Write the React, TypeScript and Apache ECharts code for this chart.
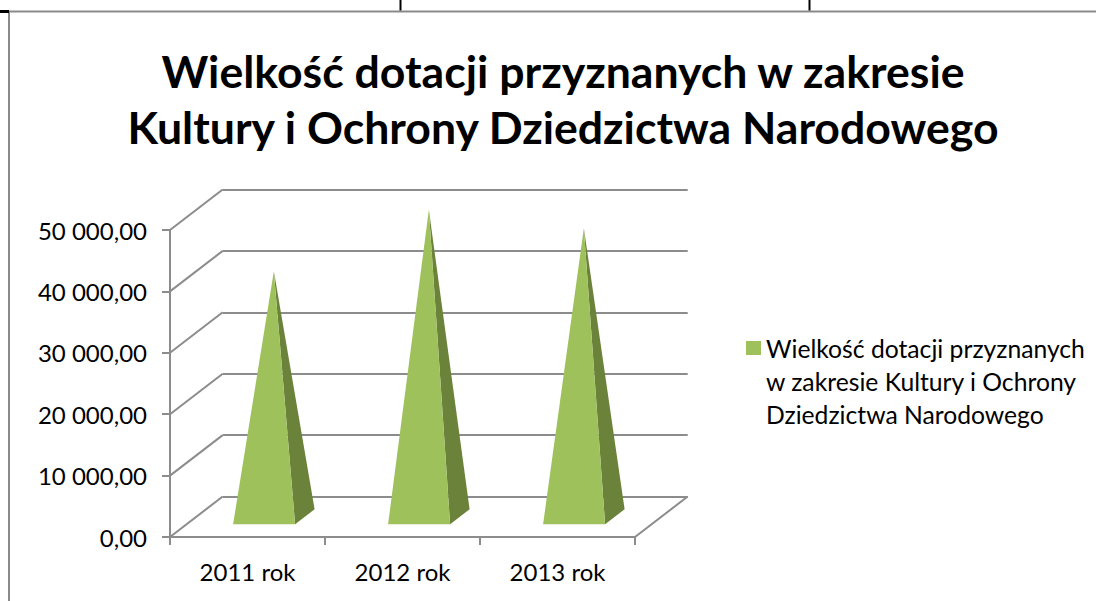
import React, { useEffect, useRef } from "react";
import * as echarts from "echarts";

// ---- data ----
const TITLE_LINES = [
  "Wielkość dotacji przyznanych w zakresie",
  "Kultury i Ochrony Dziedzictwa Narodowego",
];
const SERIES_NAME =
  "Wielkość dotacji przyznanych w zakresie Kultury i Ochrony Dziedzictwa Narodowego";
const LEGEND_LINES = [
  "Wielkość dotacji przyznanych",
  "w zakresie Kultury i Ochrony",
  "Dziedzictwa Narodowego",
];
const CATEGORIES = ["2011 rok", "2012 rok", "2013 rok"];
const VALUES = [40000, 50000, 47000];
const Y_TICKS = [0, 10000, 20000, 30000, 40000, 50000];
const Y_MIN = 0;
const Y_MAX = 50000;
const Y_STEP = 10000;

// ---- styling / layout ----
const GRAY = "#8c8c8c";
const FRONT_COLOR = "#9fc15c";
const SIDE_COLOR = "#6a8239";
const FONT = "Lato";
const FRONT_GRID = { left: 170, top: 230, width: 465, height: 307 };
const DEPTH = { x: 52.7, y: -40.5 };
const PYR_HALF = 0.2; // half base width as fraction of band
const PYR_F0 = 0.315;
const PYR_F1 = 0.685;
const PYR_FM = 0.5;
const LEGEND_LINE_H = 33;
// legend marker: square aligned with first text line, box spans all three lines
const LEGEND_ICON =
  "path://M0,0L0.01,0Z M0,9.5H15V23.5H0Z M0,99L0.01,99Z";

function fmt(v: number): string {
  const s = Math.round(v)
    .toString()
    .replace(/\B(?=(\d{3})+(?!\d))/g, " ");
  return s + ",00";
}

export default function App() {
  const ref = useRef<HTMLDivElement>(null);

  useEffect(() => {
    if (!ref.current) return;
    const chart = echarts.init(ref.current, undefined, { renderer: "svg" });

    const axisFont = { fontFamily: FONT, fontSize: 24, color: "#000" };

    const option: any = {
      animation: false,
      backgroundColor: "#fff",
      title: {
        text: TITLE_LINES.join("\n"),
        left: 563,
        top: 42,
        padding: 0,
        textAlign: "center",
        textStyle: {
          fontFamily: FONT,
          fontWeight: "bold",
          fontSize: 44.6,
          lineHeight: 56,
          color: "#000",
        },
      },
      legend: {
        data: [SERIES_NAME],
        orient: "vertical",
        left: 746,
        top: 331.5,
        padding: 0,
        icon: LEGEND_ICON,
        itemWidth: 15,
        itemHeight: LEGEND_LINE_H * LEGEND_LINES.length,
        itemStyle: { borderWidth: 0 },
        formatter: () => LEGEND_LINES.join("\n"),
        textStyle: {
          fontFamily: FONT,
          fontSize: 24.7,
          color: "#000",
          lineHeight: LEGEND_LINE_H,
        },
        selectedMode: false,
      },
      grid: [
        { ...FRONT_GRID },
        {
          left: FRONT_GRID.left + DEPTH.x,
          top: FRONT_GRID.top + DEPTH.y,
          width: FRONT_GRID.width,
          height: FRONT_GRID.height,
        },
      ],
      xAxis: [
        {
          gridIndex: 0,
          type: "category",
          data: CATEGORIES,
          axisLine: { show: true, lineStyle: { color: GRAY, width: 2 } },
          axisTick: { show: true, length: 8, lineStyle: { color: GRAY, width: 2 } },
          axisLabel: { ...axisFont, margin: 22 },
          splitLine: { show: false },
        },
        {
          gridIndex: 1,
          type: "category",
          data: CATEGORIES,
          show: false,
        },
      ],
      yAxis: [
        {
          gridIndex: 0,
          type: "value",
          min: Y_MIN,
          max: Y_MAX,
          interval: Y_STEP,
          axisLine: { show: true, lineStyle: { color: GRAY, width: 2 } },
          axisTick: { show: true, length: 8, lineStyle: { color: GRAY, width: 2 } },
          axisLabel: { ...axisFont, margin: 23, formatter: (v: number) => fmt(v) },
          splitLine: { show: false },
        },
        {
          gridIndex: 1,
          type: "value",
          min: Y_MIN,
          max: Y_MAX,
          interval: Y_STEP,
          axisLine: { show: false },
          axisTick: { show: false },
          axisLabel: { show: false },
          splitLine: {
            show: true,
            showMinLine: true,
            showMaxLine: true,
            lineStyle: { color: GRAY, width: 2 },
          },
        },
      ],
      graphic: [
        { type: "line", shape: { x1: 9, y1: 11, x2: 9, y2: 601 }, style: { stroke: "#8a8a8a", lineWidth: 2 } },
        { type: "line", shape: { x1: 9, y1: 11.5, x2: 1096, y2: 11.5 }, style: { stroke: "#8a8a8a", lineWidth: 2 } },
        { type: "line", shape: { x1: 0, y1: 11.5, x2: 9, y2: 11.5 }, style: { stroke: "#000", lineWidth: 3 } },
        { type: "line", shape: { x1: 400.5, y1: 0, x2: 400.5, y2: 10.5 }, style: { stroke: "#000", lineWidth: 2 } },
        { type: "line", shape: { x1: 809.5, y1: 0, x2: 809.5, y2: 10.5 }, style: { stroke: "#000", lineWidth: 2 } },
      ],
      series: [
        {
          // side wall diagonals from the front axis to the back wall
          type: "custom",
          name: "walls",
          xAxisIndex: 0,
          yAxisIndex: 0,
          silent: true,
          z: 1,
          data: Y_TICKS.map((v) => [0, v]),
          renderItem: (params: any, api: any) => {
            const y = api.coord([0, api.value(1)])[1];
            const x = params.coordSys.x;
            return {
              type: "line",
              shape: { x1: x, y1: y, x2: x + DEPTH.x, y2: y + DEPTH.y },
              style: { stroke: GRAY, lineWidth: 2 },
            };
          },
        },
        {
          // right floor edge
          type: "custom",
          name: "floor",
          xAxisIndex: 0,
          yAxisIndex: 0,
          silent: true,
          z: 1,
          data: [[CATEGORIES.length - 1, Y_MIN]],
          renderItem: (params: any, api: any) => {
            const y = api.coord([0, api.value(1)])[1];
            const x = params.coordSys.x + params.coordSys.width;
            return {
              type: "line",
              shape: { x1: x, y1: y, x2: x + DEPTH.x, y2: y + DEPTH.y },
              style: { stroke: GRAY, lineWidth: 2 },
            };
          },
        },
        {
          type: "custom",
          name: SERIES_NAME,
          xAxisIndex: 0,
          yAxisIndex: 0,
          z: 5,
          itemStyle: { color: FRONT_COLOR },
          encode: { x: 0, y: 1 },
          data: VALUES.map((v, i) => [i, v]),
          renderItem: (params: any, api: any) => {
            const idx = api.value(0);
            const val = api.value(1);
            const base = api.coord([idx, Y_MIN]);
            const top = api.coord([idx, val]);
            const band = api.size([1, 0])[0];
            const half = band * PYR_HALF;
            const cx = base[0];
            const y0 = base[1];
            const fl = [cx - half + PYR_F0 * DEPTH.x, y0 + PYR_F0 * DEPTH.y];
            const fr = [cx + half + PYR_F0 * DEPTH.x, y0 + PYR_F0 * DEPTH.y];
            const br = [cx + half + PYR_F1 * DEPTH.x, y0 + PYR_F1 * DEPTH.y];
            const apex = [cx + PYR_FM * DEPTH.x, top[1] + PYR_FM * DEPTH.y];
            return {
              type: "group",
              children: [
                {
                  type: "polygon",
                  shape: { points: [fr, br, apex] },
                  style: { fill: SIDE_COLOR },
                },
                {
                  type: "polygon",
                  shape: { points: [fl, fr, apex] },
                  style: { fill: FRONT_COLOR },
                },
              ],
            };
          },
        },
      ],
    };

    chart.setOption(option);
    return () => chart.dispose();
  }, []);

  return (
    <div
      ref={ref}
      style={{ position: "absolute", left: 0, top: 0, width: 1096, height: 601 }}
    />
  );
}
